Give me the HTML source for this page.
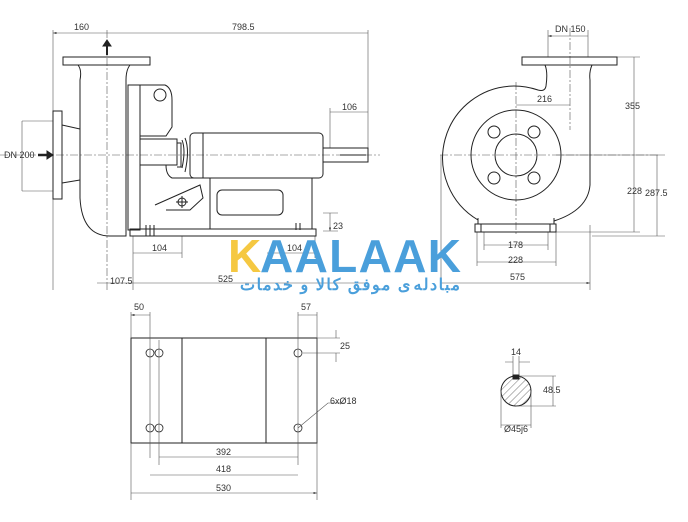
<!DOCTYPE html>
<html><head><meta charset="utf-8"><style>
html,body{margin:0;padding:0;background:#fff;}
svg{display:block;}
text{font-family:"Liberation Sans",sans-serif;font-size:9px;fill:#333;}
</style></head><body>
<svg width="688" height="522" viewBox="0 0 688 522" xmlns="http://www.w3.org/2000/svg">
<defs>
<marker id="a" markerWidth="6" markerHeight="4" refX="6" refY="2" orient="auto-start-reverse"><path d="M0,0 L6,2 L0,4z" fill="#444"/></marker>
<pattern id="h" width="5" height="5" patternUnits="userSpaceOnUse" patternTransform="rotate(45)"><line x1="0" y1="0" x2="0" y2="5" stroke="#555" stroke-width="0.8"/></pattern>
</defs>
<g stroke="#555" stroke-width="0.6" fill="none">
<path d="M0 155H380M107 30V290M440 155H660M516 82V234M570 28V130" stroke-dasharray="8 2 2 2"/>
<path d="M53 30V290M368 30V158M22 121H53M22 191H53M368 108V148M330 108V148M133 236V290M182 236V258M315 236V258M323 213H338M323 231H338"/>
<path d="M53 33H107M107 33H368M330 112H368M22 121V191M133 253H182M267 253H315M97 283H133M133 283H368M330 213V231" marker-start="url(#a)" marker-end="url(#a)"/>
<path d="M548 30V57M588 30V57M617 57H640M556 155H665M556 232H640M592 236H665M441 155V290M590 225V290M484 232V250M548 232V250M477 232V266M556 232V266"/>
<path d="M548 36H588M516 105H570M634 57V155M634 155V232M657 155V236M484 245H548M477 262H556M440 283H590" marker-start="url(#a)" marker-end="url(#a)"/>
</g>
<g stroke="#222" stroke-width="1" fill="none">
<rect x="63" y="57" width="87" height="8"/>
<path d="M78 65 Q82 70 80 80 V198 Q82 236 110 236 H126 V80 Q126 70 130 65"/>
<rect x="53" y="111" width="9" height="88"/>
<path d="M62 125 L80 129M62 183 L80 180"/>
<rect x="128" y="85" width="12" height="145"/>
<path d="M140 85 H165 Q172 88 172 100 V127 L166 136 H140"/>
<circle cx="160" cy="95" r="6"/>
<rect x="140" y="139" width="37" height="26"/>
<path d="M177 143 H181 V167 H177 M182 140 Q186 150 182 168 M185 138 Q190 150 185 172"/>
<rect x="190" y="133" width="133" height="45" rx="4"/>
<path d="M203 133 V178"/>
<rect x="323" y="148" width="45" height="14"/>
<path d="M340 155 H366"/>
<path d="M140 165 V229 M166 165 Q166 175 172 178 H205 M155 205 L200 185 L203 198 L190 210 H166"/>
<rect x="210" y="178" width="102" height="51"/>
<rect x="217" y="190" width="66" height="25" rx="5"/>
<path d="M130 229 H316 V236 H130z"/>
<path d="M146 225 V236M150 225 V236M154 225 V236M296 223 V230M300 223V230"/>
<circle cx="182" cy="202" r="4"/><path d="M176 202H188M182 196V208"/>
<path d="M107 42 V55" stroke-width="2"/><path d="M103 46 L107 40 L111 46z" fill="#222"/>
<path d="M38 155 H48" stroke-width="2.5"/><path d="M47 151 L53 155 L47 159z" fill="#222"/>
<rect x="522" y="57" width="95" height="8"/>
<path d="M545 65 Q548 72 546 86 Q545 92 538 90 Q526 86 514 86 A72 72 0 0 0 478 220"/>
<path d="M592 65 Q589 72 590 80 V185 Q588 210 554 221"/>
<circle cx="516" cy="155" r="45"/>
<circle cx="516" cy="155" r="21"/>
<circle cx="494" cy="132" r="6"/><circle cx="534" cy="132" r="6"/>
<circle cx="494" cy="178" r="6"/><circle cx="534" cy="178" r="6"/>
<rect x="475" y="224" width="81" height="8"/>
<path d="M481 224 V232 M550 224 V232 M478 218 V224 M554 218 V224"/>
<rect x="131" y="338" width="186" height="105"/>
<path d="M182 338V443M266 338V443"/>
<g stroke-width="0.8"><circle cx="150" cy="353" r="4"/><circle cx="159" cy="353" r="4"/><circle cx="298" cy="353" r="4"/><circle cx="150" cy="428" r="4"/><circle cx="159" cy="428" r="4"/><circle cx="298" cy="428" r="4"/></g>
<circle cx="516" cy="391" r="15" fill="url(#h)"/>
<rect x="513" y="375" width="6" height="4" fill="#222"/>
</g>
<g stroke="#555" stroke-width="0.6" fill="none">
<path d="M131 312V338M150 312V458M159 340V465M298 312V465M317 312V500M131 443V500M317 338H340M303 353H340M336 330V338M336 353V362M298 428 L328 403 H345"/>
<path d="M131 315H150M298 315H317M159 457H298M150 475H298M131 493H317" marker-start="url(#a)" marker-end="url(#a)"/>
<path d="M513 356V375M519 356V375M505 362H513M519 362H530M519 376H556M516 406H556M553 376V406M501 391V428M531 391V428M501 425H531"/>
</g>
<text x="74" y="30">160</text><text x="232" y="30">798.5</text>
<text x="342" y="110">106</text><text x="4" y="158">DN 200</text>
<text x="152" y="251">104</text><text x="287" y="251">104</text>
<text x="333" y="229">23</text>
<text x="110" y="284">107.5</text><text x="218" y="282">525</text>
<text x="555" y="32">DN 150</text><text x="537" y="102">216</text>
<text x="625" y="109">355</text><text x="627" y="194">228</text><text x="645" y="196">287.5</text>
<text x="508" y="248">178</text><text x="508" y="263">228</text><text x="510" y="280">575</text>
<text x="134" y="310">50</text><text x="301" y="310">57</text><text x="340" y="349">25</text>
<text x="330" y="404">6xØ18</text>
<text x="216" y="455">392</text><text x="216" y="472">418</text><text x="216" y="491">530</text>
<text x="511" y="355">14</text><text x="543" y="393">48.5</text><text x="504" y="432">Ø45j6</text>
<text x="228" y="272" style="font-size:46px;font-weight:bold;fill:#f5c842;letter-spacing:-2px">K</text>
<text x="260" y="272" style="font-size:46px;font-weight:bold;fill:#4a9fdb;letter-spacing:-1px" textLength="200">AALAAK</text>
<text x="240" y="290" style="font-size:16px;font-weight:bold;fill:#4a9fdb;font-family:'Liberation Sans','Noto Sans CJK SC',sans-serif" textLength="220">مبادله‌ی موفق کالا و خدمات</text>
</svg>
</body></html>
